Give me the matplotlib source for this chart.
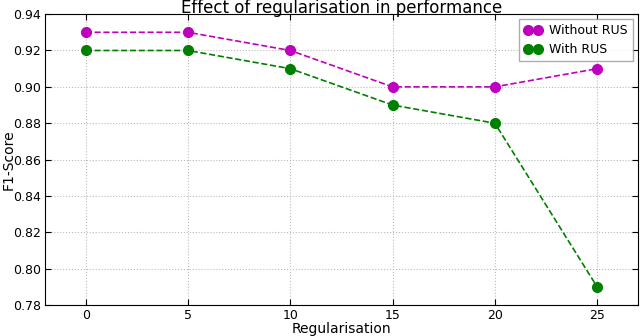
import matplotlib
matplotlib.use('Agg')
import matplotlib.pyplot as plt

reg = [0, 5, 10, 15, 20, 25]
without_rus = [0.93, 0.93, 0.92, 0.90, 0.90, 0.91]
with_rus = [0.92, 0.92, 0.91, 0.89, 0.88, 0.79]

fig = plt.figure(figsize=(6.4, 3.36), dpi=100)
ax = fig.add_axes([0.07, 0.092, 0.927, 0.866])

ax.plot(reg, without_rus, 'o--', color='#bf00bf', markersize=7, linewidth=1.2,
        markeredgecolor='#bf00bf', label='Without RUS')
ax.plot(reg, with_rus, 'o--', color='#008000', markersize=7, linewidth=1.2,
        markeredgecolor='#008000', label='With RUS')

ax.set_xlim(-2, 27)
ax.set_ylim(0.78, 0.94)
ax.set_xticks(reg)
ax.set_yticks([0.78, 0.80, 0.82, 0.84, 0.86, 0.88, 0.90, 0.92, 0.94])
ax.set_yticklabels(['0.78', '0.80', '0.82', '0.84', '0.86', '0.88', '0.90', '0.92', '0.94'])
ax.tick_params(direction='in', labelsize=9, length=4, pad=3, top=True, right=True)
ax.grid(True, color='#bbbbbb', linestyle=':', linewidth=0.8)

ax.set_xlabel('Regularisation', fontsize=10, labelpad=0)
ax.set_ylabel('F1-Score', fontsize=10)
ax.yaxis.set_label_coords(-0.05, 0.5)
ax.set_title('Effect of regularisation in performance', fontsize=12, pad=1)

leg = ax.legend(loc='upper right', numpoints=2, fontsize=9, fancybox=False,
                handlelength=1.4, handletextpad=0.6, borderaxespad=0.4)
leg.get_frame().set_edgecolor('#999999')

fig.savefig('out.png', dpi=100)
